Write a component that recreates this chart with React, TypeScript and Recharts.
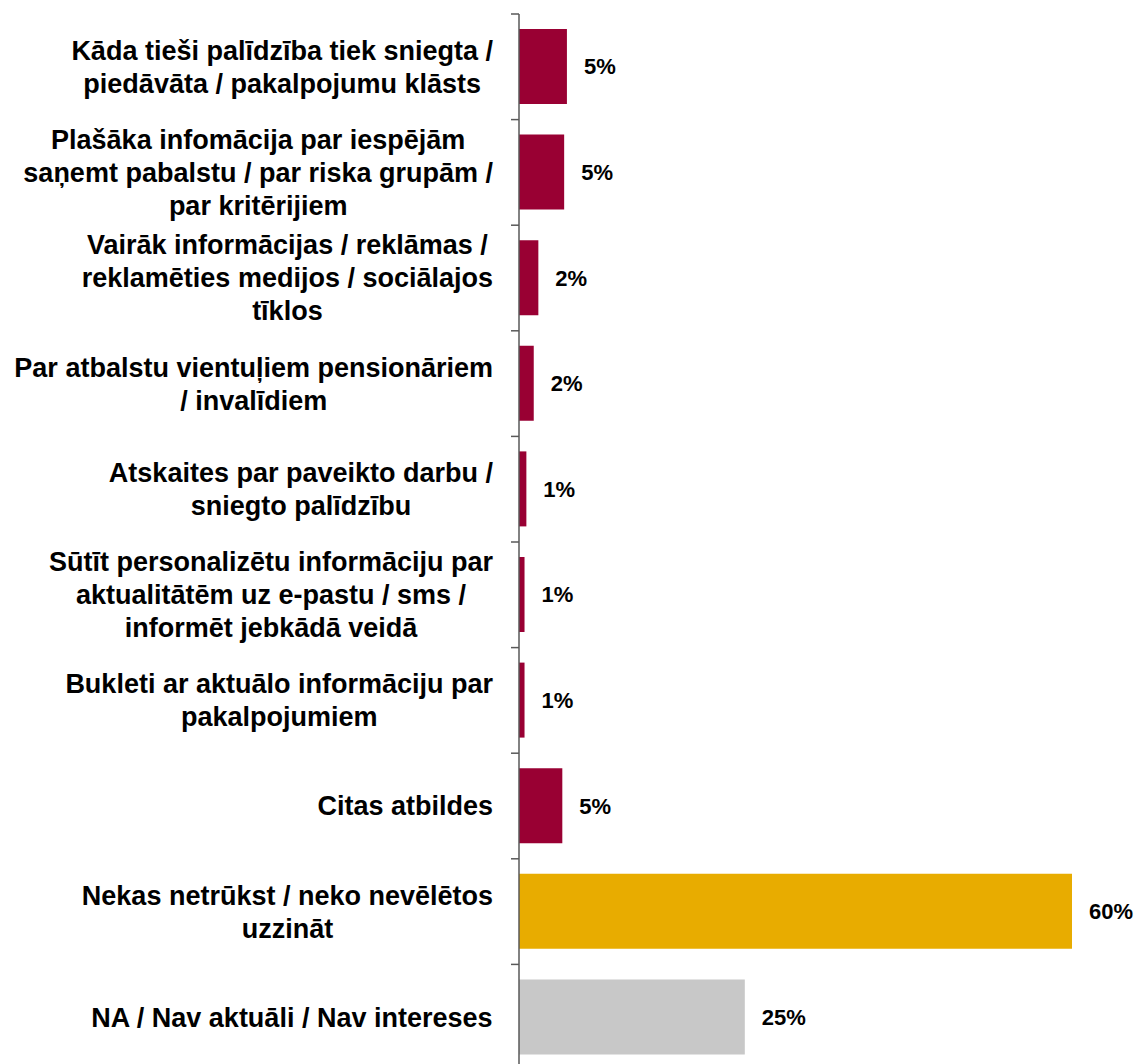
import { Bar, BarChart, Cell, LabelList, XAxis, YAxis } from "recharts";

const CATEGORIES: string[][] = [
  ["Kāda tieši palīdzība tiek sniegta /", "piedāvāta / pakalpojumu klāsts"],
  ["Plašāka infomācija par iespējām", "saņemt pabalstu / par riska grupām /", "par kritērijiem"],
  ["Vairāk informācijas / reklāmas /", "reklamēties medijos / sociālajos", "tīklos"],
  ["Par atbalstu vientuļiem pensionāriem", "/ invalīdiem"],
  ["Atskaites par paveikto darbu /", "sniegto palīdzību"],
  ["Sūtīt personalizētu informāciju par", "aktualitātēm uz e-pastu / sms /", "informēt jebkādā veidā"],
  ["Bukleti ar aktuālo informāciju par", "pakalpojumiem"],
  ["Citas atbildes"],
  ["Nekas netrūkst / neko nevēlētos", "uzzināt"],
  ["NA / Nav aktuāli / Nav intereses"],
];

const VALUES = [5.2, 4.9, 2.1, 1.6, 0.8, 0.6, 0.6, 4.7, 60, 24.5];

const KIND = ["other", "other", "other", "other", "other", "other", "other", "other", "none", "na"];

const COLORS: Record<string, string> = {
  other: "#990033",
  none: "#E8AC00",
  na: "#C8C8C8",
};

const FONT = "'Liberation Sans', Arial, sans-serif";
const LABEL_SIZE = 27;
const LINE_H = 33;
const TOP = 14;
const BAND = 105.6;

const data = CATEGORIES.map((lines, i) => ({
  key: String(i),
  value: VALUES[i],
  kind: KIND[i],
}));

let ctx: CanvasRenderingContext2D | null = null;
function measure(text: string) {
  if (!ctx) {
    ctx = document.createElement("canvas").getContext("2d");
  }
  if (!ctx) return text.length * LABEL_SIZE * 0.55;
  ctx.font = `bold ${LABEL_SIZE}px 'Liberation Sans', Arial, sans-serif`;
  return ctx.measureText(text).width;
}

// recharts hands the tick x already shifted left by tickSize + tickMargin (8px)
function CategoryTick(props: any) {
  const { x, y, payload } = props;
  const axisX = x + 8;
  const lines = CATEGORIES[Number(payload.value)] ?? [];
  const maxW = Math.max(...lines.map(measure));
  const right = axisX - 26;
  const cx = right - maxW / 2;
  const first = y - ((lines.length - 1) * LINE_H) / 2;
  return (
    <g>
      <line x1={axisX - 8} x2={axisX} y1={y - BAND / 2} y2={y - BAND / 2} stroke="#595959" strokeWidth={1.5} />
      {lines.map((line, i) => (
        <text
          key={i}
          x={cx}
          y={first + i * LINE_H}
          dy="0.35em"
          textAnchor="middle"
          fontFamily={FONT}
          fontWeight="bold"
          fontSize={LABEL_SIZE}
          fill="#000"
        >
          {line}
        </text>
      ))}
    </g>
  );
}

export default function App() {
  return (
    <div style={{ width: 1138, height: 1064, overflow: "hidden", background: "#fff" }}>
      <style>{"body{margin:0}"}</style>
      <BarChart
        width={1138}
        height={1072}
        data={data}
        layout="vertical"
        margin={{ top: TOP, right: 66, bottom: 2, left: 0 }}
      >
        <XAxis type="number" domain={[0, 60]} hide />
        <YAxis
          type="category"
          dataKey="key"
          width={519}
          axisLine={{ stroke: "#595959", strokeWidth: 1.5 }}
          tickLine={false}
          tick={<CategoryTick />}
          interval={0}
        />
        <Bar dataKey="value" barSize={75} isAnimationActive={false}>
          {data.map((d) => (
            <Cell key={d.key} fill={COLORS[d.kind]} />
          ))}
          <LabelList
            dataKey="value"
            position="right"
            offset={17}
            formatter={(v: any) => `${Math.round(Number(v))}%`}
            style={{ fontFamily: FONT, fontWeight: "bold", fontSize: 22, fill: "#000" }}
          />
        </Bar>
      </BarChart>
    </div>
  );
}
